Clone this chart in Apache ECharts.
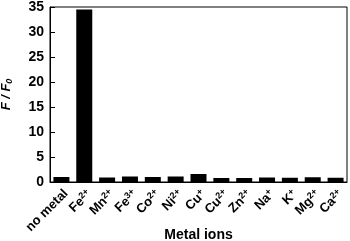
<!DOCTYPE html>
<html><head><meta charset="utf-8">
<script src="https://cdn.jsdelivr.net/npm/echarts@6/dist/echarts.min.js"></script>
<style>html,body{margin:0;padding:0;background:#fff}#c{width:350px;height:241px}</style>
</head><body><div id="c"></div>
<script>
const categories = ["no metal","Fe|2+","Mn|2+","Fe|3+","Co|2+","Ni|2+","Cu|+","Cu|2+","Zn|2+","Na|+","K|+","Mg|2+","Ca|2+"];
const values = [1.0, 34.5, 0.9, 1.1, 1.0, 1.1, 1.6, 0.8, 0.8, 0.9, 0.85, 0.95, 0.85];
const yTicks = [0,5,10,15,20,25,30,35];
const FONT = '"Liberation Sans", Arial, sans-serif';
const chart = echarts.init(document.getElementById('c'), null, {renderer:'canvas'});
chart.setOption({
  animation:false,
  grid:{left:50,right:3,top:7,bottom:59,containLabel:false,outerBoundsMode:'none',show:true,borderColor:'#000',borderWidth:1,backgroundColor:'transparent'},
  xAxis:{type:'category',data:categories,
    name:'Metal ions',nameLocation:'middle',nameGap:46,nameMoveOverlap:false,
    nameTextStyle:{fontFamily:FONT,fontWeight:'bold',fontSize:14,color:'#000'},
    axisLine:{lineStyle:{color:'#000',width:1}},
    axisTick:{inside:true,length:4,lineStyle:{color:'#000'}},
    axisLabel:{rotate:45,interval:0,margin:5,verticalAlign:'top',fontFamily:FONT,fontWeight:'bold',fontSize:13,color:'#000',
      formatter:function(v){const p=v.split('|');return p.length>1?'{b|'+p[0]+'}{s|'+p[1]+'}':'{b|'+p[0]+'}';},
      rich:{b:{fontFamily:FONT,fontWeight:'bold',fontSize:13,color:'#000'},
            s:{fontFamily:FONT,fontWeight:'bold',fontSize:9,color:'#000',verticalAlign:'top',padding:[0,0,6,0]}}}
  },
  yAxis:{type:'value',min:0,max:35,interval:5,
    name:'{i|F / F}{s|0}',nameLocation:'middle',nameGap:36,nameRotate:90,nameMoveOverlap:false,
    nameTextStyle:{rich:{i:{fontFamily:FONT,fontWeight:'bold',fontStyle:'italic',fontSize:13,color:'#000'},
      s:{fontFamily:FONT,fontWeight:'bold',fontStyle:'italic',fontSize:9,color:'#000',verticalAlign:'bottom',padding:[6,0,0,0]}}},
    axisLine:{show:true,lineStyle:{color:'#000',width:1}},
    axisTick:{show:true,inside:true,length:5,lineStyle:{color:'#000'}},
    splitLine:{show:false},
    axisLabel:{margin:6,fontFamily:FONT,fontWeight:'bold',fontSize:14,color:'#000',
      formatter:function(v){return yTicks.indexOf(v)>=0?String(v):'';}}
  },
  series:[{type:'bar',data:values,barWidth:16,itemStyle:{color:'#000'}}]
});
</script></body></html>
